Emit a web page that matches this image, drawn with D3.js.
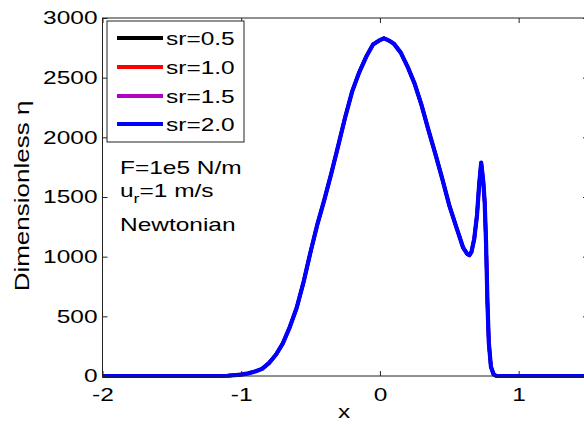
<!DOCTYPE html>
<html>
<head>
<meta charset="utf-8">
<script src="https://cdn.jsdelivr.net/npm/d3@7"></script>
<style>
  html, body { margin: 0; padding: 0; background: #fff; }
  svg text { font-family: "Liberation Sans", Arial, sans-serif; fill: #000; }
</style>
</head>
<body>
<svg id="chart" width="584" height="425"></svg>
<script>
// ---- data ----
const seriesNames = ["sr=0.5", "sr=1.0", "sr=1.5", "sr=2.0"];
const seriesColors = ["#000000", "#ff0000", "#b400c4", "#0000ff"];
const xTicks = [-2, -1, 0, 1];
const yTicks = [0, 500, 1000, 1500, 2000, 2500, 3000];
const xs = [-2.0, -1.5, -1.2, -1.1, -1.0, -0.95, -0.9, -0.85, -0.8, -0.75, -0.7, -0.65, -0.6, -0.55, -0.5,
  -0.45, -0.4, -0.35, -0.3, -0.25, -0.2, -0.15, -0.1, -0.05, 0.0, 0.03, 0.07, 0.1, 0.15, 0.2, 0.25,
  0.3, 0.35, 0.4, 0.45, 0.5, 0.55, 0.6, 0.63, 0.645, 0.66, 0.68, 0.7, 0.715, 0.73, 0.745, 0.755,
  0.765, 0.775, 0.785, 0.8, 0.82, 0.84, 1.0, 1.5];
const eta_sr05 = [0, 0, 0, 2, 12, 22, 38, 60, 108, 178, 274, 410, 572, 790, 1040,
  1275, 1480, 1700, 1933, 2171, 2385, 2543, 2673, 2778, 2815, 2830, 2808, 2785, 2710, 2590, 2450,
  2270, 2060, 1860, 1650, 1430, 1250, 1075, 1022, 1012, 1040, 1150, 1350, 1600, 1788, 1630, 1460,
  1120, 620, 280, 78, 13, 0, 0, 0];
const eta_sr10 = [0, 0, 0, 2, 12, 22, 38, 60, 108, 178, 274, 410, 572, 790, 1040,
  1275, 1480, 1700, 1933, 2171, 2385, 2543, 2673, 2778, 2815, 2830, 2808, 2785, 2710, 2590, 2450,
  2270, 2060, 1860, 1650, 1430, 1250, 1075, 1022, 1012, 1040, 1150, 1350, 1600, 1788, 1630, 1460,
  1120, 620, 280, 78, 13, 0, 0, 0];
const eta_sr15 = [0, 0, 0, 2, 12, 22, 38, 60, 108, 178, 274, 410, 572, 790, 1040,
  1275, 1480, 1700, 1933, 2171, 2385, 2543, 2673, 2778, 2815, 2830, 2808, 2785, 2710, 2590, 2450,
  2270, 2060, 1860, 1650, 1430, 1250, 1075, 1022, 1012, 1040, 1150, 1350, 1600, 1788, 1630, 1460,
  1120, 620, 280, 78, 13, 0, 0, 0];
const eta_sr20 = [0, 0, 0, 2, 12, 22, 38, 60, 108, 178, 274, 410, 572, 790, 1040,
  1275, 1480, 1700, 1933, 2171, 2385, 2543, 2673, 2778, 2815, 2830, 2808, 2785, 2710, 2590, 2450,
  2270, 2060, 1860, 1650, 1430, 1250, 1075, 1022, 1012, 1040, 1150, 1350, 1600, 1788, 1630, 1460,
  1120, 620, 280, 78, 13, 0, 0, 0];
const seriesValues = [eta_sr05, eta_sr10, eta_sr15, eta_sr20];

// ---- layout ----
const SX = 1.36; // horizontal stretch of the reference's lettering
const plot = { left: 102.5, right: 588, top: 18, bottom: 376 };
const svg = d3.select("#chart");
const x = d3.scaleLinear().domain([-2, 1.5]).range([plot.left, plot.right]);
const y = d3.scaleLinear().domain([0, 3000]).range([plot.bottom, plot.top]);
const axisColor = "#222";
const fmt = d => String(d); // plain hyphen minus, as in the reference

function stretchTexts(sel) {
  sel.selectAll("text").each(function () {
    const t = d3.select(this);
    const tx = +t.attr("x") || 0, ty = +t.attr("y") || 0;
    t.attr("x", 0).attr("y", 0).attr("transform", `translate(${tx},${ty}) scale(${SX},1)`);
  });
}
function styleAxis(g) {
  g.select(".domain").remove();
  g.selectAll("line").attr("stroke", axisColor);
  g.selectAll("text").attr("font-size", 18).attr("fill", "#000")
    .style("font-family", '"Liberation Sans", Arial, sans-serif');
}

// curves (later series drawn on top; the lower ones slightly thinner so they stay hidden)
const line = d3.line().x((d, i) => x(xs[i])).y(d => y(d));
seriesValues.forEach((vals, k) => {
  svg.append("path").datum(vals).attr("d", line)
    .attr("fill", "none").attr("stroke", seriesColors[k])
    .attr("stroke-width", k === seriesValues.length - 1 ? 4.2 : 3.4)
    .attr("stroke-linejoin", "round");
});

// axes box
svg.append("rect").attr("x", plot.left).attr("y", plot.top)
  .attr("width", plot.right - plot.left).attr("height", plot.bottom - plot.top)
  .attr("fill", "none").attr("stroke", axisColor).attr("stroke-width", 1);

// bottom axis
const gx = svg.append("g").attr("transform", `translate(0,${plot.bottom})`)
  .call(d3.axisBottom(x).tickValues(xTicks).tickFormat(fmt).tickSizeInner(-5).tickSizeOuter(0).tickPadding(12));
styleAxis(gx); stretchTexts(gx);
// top axis (ticks only)
const gxt = svg.append("g").attr("transform", `translate(0,${plot.top})`)
  .call(d3.axisTop(x).tickValues(xTicks).tickFormat("").tickSizeInner(-5).tickSizeOuter(0));
styleAxis(gxt);
// left axis
const gy = svg.append("g").attr("transform", `translate(${plot.left},0)`)
  .call(d3.axisLeft(y).tickValues(yTicks).tickFormat(fmt).tickSizeInner(-5).tickSizeOuter(0).tickPadding(5));
styleAxis(gy); stretchTexts(gy);
// right axis (ticks only)
const gyr = svg.append("g").attr("transform", `translate(${plot.right},0)`)
  .call(d3.axisRight(y).tickValues(yTicks).tickFormat("").tickSizeInner(-5).tickSizeOuter(0));
styleAxis(gyr);

// legend
const leg = svg.append("g");
leg.append("rect").attr("x", 107).attr("y", 21).attr("width", 137).attr("height", 121)
  .attr("fill", "#fff").attr("stroke", axisColor).attr("stroke-width", 1);
const rowY = [38, 67, 96, 124];
seriesNames.forEach((name, k) => {
  leg.append("line").attr("x1", 117).attr("x2", 163).attr("y1", rowY[k]).attr("y2", rowY[k])
    .attr("stroke", seriesColors[k]).attr("stroke-width", 4);
  leg.append("text").attr("transform", `translate(166,${rowY[k] + 7}) scale(${SX},1)`)
    .attr("font-size", 18).text(name);
});

// annotation
svg.append("text").attr("transform", `translate(120,174) scale(${SX},1)`).attr("font-size", 18).text("F=1e5 N/m");
const u = svg.append("text").attr("transform", `translate(120,197) scale(${SX},1)`).attr("font-size", 18);
u.append("tspan").text("u");
u.append("tspan").attr("font-size", 13).attr("dy", 6).text("r");
u.append("tspan").attr("dy", -6).text("=1 m/s");
svg.append("text").attr("transform", `translate(120,231) scale(${SX},1)`).attr("font-size", 18).text("Newtonian");

// axis labels
svg.append("text").attr("text-anchor", "middle")
  .attr("transform", `translate(344,418) scale(${SX},1)`).attr("font-size", 18).text("x");
svg.append("text").attr("text-anchor", "middle")
  .attr("transform", `translate(29,196) rotate(-90) scale(1.3,1)`).attr("font-size", 20).text("Dimensionless η");
</script>
</body>
</html>
